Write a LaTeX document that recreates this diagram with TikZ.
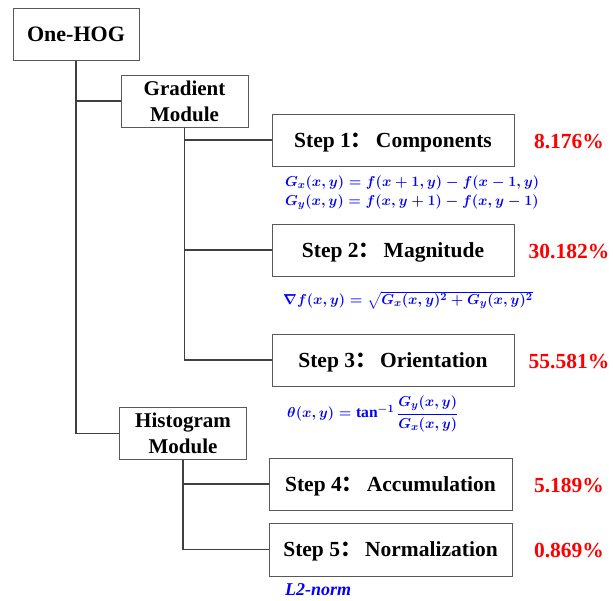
\documentclass[tikz,border=0pt]{standalone}
\usepackage{amsmath,bm}
\usepackage{fontspec}
\setmainfont{Liberation Serif}
\newfontfamily\cjk{Noto Sans CJK SC}
\newcommand{\fwc}{{\cjk ：}\,}
\begin{document}
\begin{tikzpicture}[x=1pt,y=-1pt,
 box/.style={draw=black!65, line width=1pt, fill=white, font=\bfseries\fontsize{21.5}{24}\selectfont, inner sep=0pt, align=center},
 modbox/.style={box, minimum width=127, minimum height=52, font=\bfseries\fontsize{21}{26}\selectfont},
 stepbox/.style={box, minimum width=242, minimum height=52, text height=18pt, text depth=4pt},
 link/.style={draw=black!75, line width=1.5pt},
 pct/.style={text=red, font=\bfseries\fontsize{21.5}{24}\selectfont, anchor=center},
 eq/.style={text=blue, font=\fontsize{15.6}{18}\selectfont\boldmath, anchor=west, inner sep=0pt}]
\useasboundingbox (0,0) rectangle (613,600);
\node[box, minimum width=126, minimum height=52, font=\bfseries\fontsize{22}{24}\selectfont] (root) at (76,34) {One-HOG};
\node[modbox] (grad) at (184.5,101) {Gradient\\Module};
\node[modbox] (hist) at (183,433.5) {Histogram\\Module};
\node[stepbox] (s1) at (393,140) {Step 1\fwc Components};
\node[stepbox] (s2) at (393,250) {Step 2\fwc Magnitude};
\node[stepbox] (s3) at (393,360) {Step 3\fwc Orientation};
\node[stepbox, minimum width=243] (s4) at (390.5,484) {Step 4\fwc Accumulation};
\node[stepbox, minimum width=243, minimum height=53] (s5) at (390.5,549.5) {Step 5\fwc Normalization};
\draw[link] (root.south) |- (grad.west);
\draw[link] (root.south) |- (hist.west);
\draw[link] (grad.south) |- (s1.west);
\draw[link] (grad.south) |- (s2.west);
\draw[link] (grad.south) |- (s3.west);
\draw[link] (hist.south) |- (s4.west);
\draw[link] (hist.south) |- (s5.west);
\node[pct] (p1) at (569,141) {8.176\%};
\node[pct] (p2) at (569,251) {30.182\%};
\node[pct] (p3) at (569,361) {55.581\%};
\node[pct] (p4) at (569,485) {5.189\%};
\node[pct] (p5) at (569,550) {0.869\%};
\node[eq] (e1) at (285,183) {$G_x(x,y)=f(x+1,y)-f(x-1,y)$};
\node[eq] (e2) at (285,202) {$G_y(x,y)=f(x,y+1)-f(x,y-1)$};
\node[eq] (e3) at (283,300) {$\nabla f(x,y)=\sqrt{G_x(x,y)^2+G_y(x,y)^2}$};
\node[eq] (e4) at (287,414) {$\theta(x,y)=\tan^{-1}\dfrac{G_y(x,y)}{G_x(x,y)}$};
\node[text=blue, font=\bfseries\itshape\fontsize{18}{20}\selectfont, anchor=west, inner sep=0pt] (l2) at (285,590) {L2-norm};
\end{tikzpicture}
\end{document}
